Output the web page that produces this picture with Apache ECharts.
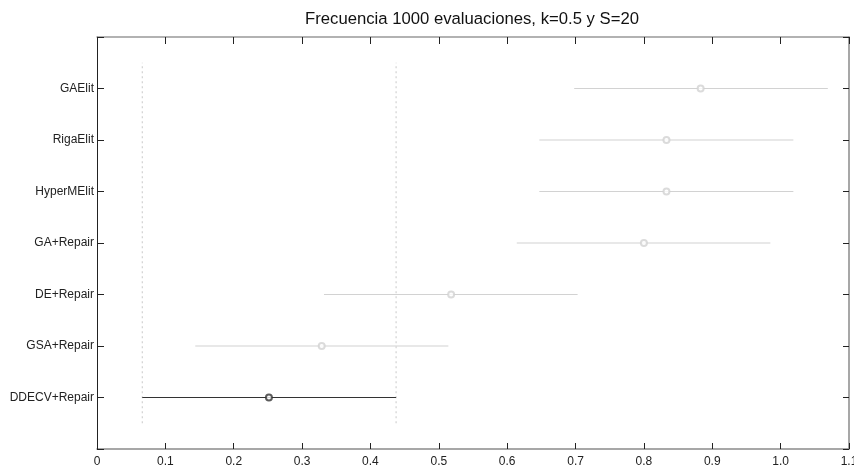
<!DOCTYPE html>
<html>
<head>
<meta charset="utf-8">
<script src="https://cdn.jsdelivr.net/npm/echarts@6/dist/echarts.min.js"></script>
<style>html,body{margin:0;padding:0;background:#fff;overflow:hidden;}#c{width:854px;height:467px;}</style>
</head>
<body>
<div id="c"></div>
<script>
// groups from bottom (position 1) to top (position 7)
const groups = ['DDECV+Repair', 'GSA+Repair', 'DE+Repair', 'GA+Repair', 'HyperMElit', 'RigaElit', 'GAElit'];
const means  = [0.2515, 0.3287, 0.518, 0.800, 0.833, 0.833, 0.883];
const lows   = [0.0662, 0.1437, 0.332, 0.614, 0.647, 0.647, 0.698];
const highs  = [0.4375, 0.514, 0.703, 0.985, 1.0186, 1.0186, 1.069];
const xTicks = ['0', '0.1', '0.2', '0.3', '0.4', '0.5', '0.6', '0.7', '0.8', '0.9', '1.0', '1.1'];
const selected = 0;

const FONT = 'Liberation Sans';
const series = [];
groups.forEach((g, i) => {
  const col = i === selected ? '#333333' : '#d2d2d2';
  series.push({
    type: 'line', data: [[lows[i], i + 1], [highs[i], i + 1]],
    symbol: 'none', silent: true, z: 3,
    lineStyle: { color: col, width: 1.2 }
  });
  series.push({
    type: 'scatter', data: [[means[i], i + 1]],
    symbol: 'emptyCircle', symbolSize: 6, silent: true, z: 4,
    itemStyle: { color: col, borderColor: col, borderWidth: 1 }
  });
});
// dotted reference lines at selected group's interval ends
[lows[selected], highs[selected]].forEach(v => {
  series.push({
    type: 'line', data: [[v, 0.5], [v, 7.5]], symbol: 'none', silent: true, z: 2,
    lineStyle: { color: '#c8c8c8', width: 1, type: [2, 3] }
  });
});

const chart = echarts.init(document.getElementById('c'), null, { renderer: 'canvas' });
chart.setOption({
  animation: false,
  backgroundColor: '#fff',
  title: {
    text: 'Frecuencia 1000 evaluaciones, k=0.5 y S=20',
    left: 305, top: 11, padding: 0,
    textStyle: { fontFamily: FONT, fontSize: 16.7, fontWeight: 'normal', color: '#111' }
  },
  grid: { left: 97, right: 5, top: 37, bottom: 18, containLabel: false, outerBoundsMode: 'none' },
  xAxis: [{
    type: 'value', min: 0, max: 1.1, interval: 0.1, position: 'bottom',
    axisLine: { show: true, onZero: false, lineStyle: { color: '#8a8a8a', width: 1.5 } },
    axisTick: { show: true, inside: true, length: 6, lineStyle: { color: '#222', width: 1 } },
    axisLabel: { margin: 7, fontFamily: FONT, fontSize: 12, color: '#222',
      formatter: v => xTicks[Math.round(v * 10)] },
    splitLine: { show: false }
  }, {
    type: 'value', min: 0, max: 1.1, interval: 0.1, position: 'top',
    axisLine: { show: true, onZero: false, lineStyle: { color: '#999', width: 1.5 } },
    axisTick: { show: true, inside: true, length: 7, lineStyle: { color: '#222', width: 1 } },
    axisLabel: { show: false }, splitLine: { show: false }
  }],
  yAxis: [{
    type: 'value', min: 0, max: 8, interval: 1, position: 'left',
    axisLine: { show: true, onZero: false, lineStyle: { color: '#222', width: 1 } },
    axisTick: { show: true, inside: true, length: 7, lineStyle: { color: '#222', width: 1 } },
    axisLabel: { margin: 3, fontFamily: FONT, fontSize: 12, color: '#222',
      formatter: v => (v >= 1 && v <= 7) ? groups[v - 1] : '' },
    splitLine: { show: false }
  }, {
    type: 'value', min: 0, max: 8, interval: 1, position: 'right',
    axisLine: { show: true, onZero: false, lineStyle: { color: '#8a8a8a', width: 1.5 } },
    axisTick: { show: true, inside: true, length: 6, lineStyle: { color: '#222', width: 1 } },
    axisLabel: { show: false }, splitLine: { show: false }
  }],
  series: series
});
</script>
</body>
</html>
